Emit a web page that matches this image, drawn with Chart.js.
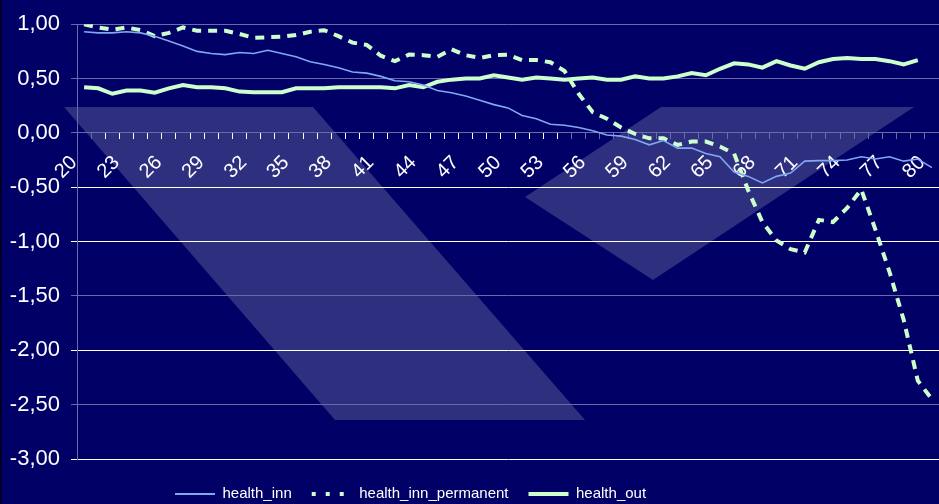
<!DOCTYPE html>
<html>
<head>
<meta charset="utf-8">
<script src="https://cdn.jsdelivr.net/npm/chart.js@4/dist/chart.umd.min.js"></script>
<style>
  html, body { margin: 0; padding: 0; background: #000066; }
  #wrap { width: 939px; height: 504px; position: relative; }
  canvas { display: block; }
</style>
</head>
<body>
<div id="wrap"><canvas id="c" width="939" height="504"></canvas></div>
<script>
const ages = [20,21,22,23,24,25,26,27,28,29,30,31,32,33,34,35,36,37,38,39,
  40,41,42,43,44,45,46,47,48,49,50,51,52,53,54,55,56,57,58,59,
  60,61,62,63,64,65,66,67,68,69,70,71,72,73,74,75,76,77,78,79,80];

const healthInn = [0.93,0.92,0.92,0.93,0.92,0.89,0.845,0.80,0.75,0.73,
  0.72,0.74,0.73,0.76,0.73,0.70,0.655,0.63,0.60,0.56,
  0.55,0.52,0.48,0.47,0.44,0.39,0.37,0.34,0.30,0.26,
  0.23,0.16,0.13,0.08,0.07,0.05,0.02,-0.02,-0.03,-0.06,
  -0.11,-0.07,-0.14,-0.14,-0.19,-0.22,-0.36,-0.40,-0.46,-0.40,
  -0.37,-0.26,-0.255,-0.255,-0.25,-0.22,-0.24,-0.22,-0.26,-0.24,
  -0.32];

const healthInnPermanent = [1.00,0.97,0.95,0.97,0.945,0.89,0.92,0.97,0.94,0.94,
  0.94,0.91,0.875,0.88,0.885,0.90,0.93,0.945,0.89,0.83,
  0.81,0.71,0.66,0.72,0.715,0.70,0.77,0.715,0.69,0.715,
  0.72,0.67,0.67,0.65,0.57,0.36,0.19,0.13,0.05,-0.01,
  -0.05,-0.05,-0.11,-0.08,-0.08,-0.125,-0.19,-0.53,-0.82,-0.99,
  -1.07,-1.10,-0.80,-0.82,-0.69,-0.52,-0.89,-1.28,-1.72,-2.28,
  -2.45];

const healthOut = [0.42,0.41,0.36,0.39,0.39,0.37,0.41,0.44,0.42,0.42,
  0.41,0.38,0.375,0.375,0.375,0.41,0.41,0.41,0.42,0.42,
  0.42,0.42,0.41,0.44,0.42,0.47,0.49,0.50,0.50,0.53,
  0.51,0.49,0.51,0.50,0.49,0.50,0.51,0.49,0.49,0.52,
  0.50,0.50,0.52,0.55,0.53,0.59,0.64,0.63,0.60,0.66,
  0.62,0.59,0.65,0.68,0.69,0.68,0.68,0.66,0.63,0.67,
  null];

const yTicks = [1, 0.5, 0, -0.5, -1, -1.5, -2, -2.5, -3];
const brightGrid = [-0.5, -1, -2, -3];

const BG = '#000066';
const DIM = '#6a6aaa';
const GREEN = '#ccffcc';
const BLUE = '#80a8f0';
const FONT = "'Liberation Sans', Arial, sans-serif";

const backdrop = {
  id: 'backdrop',
  beforeDraw(chart) {
    const ctx = chart.ctx;
    ctx.save();
    ctx.fillStyle = BG;
    ctx.fillRect(0, 0, chart.width, chart.height);
    ctx.fillStyle = 'rgba(0,0,0,0.6)';
    ctx.fillRect(0, 0, 2, chart.height);
    ctx.fillStyle = '#2f2f80';
    ctx.beginPath();
    ctx.moveTo(64, 107); ctx.lineTo(313, 107); ctx.lineTo(585, 420); ctx.lineTo(335, 420);
    ctx.closePath(); ctx.fill();
    ctx.beginPath();
    ctx.moveTo(661, 107); ctx.lineTo(914, 107); ctx.lineTo(653, 280); ctx.lineTo(525, 197);
    ctx.closePath(); ctx.fill();
    ctx.restore();
  },
  afterLayout(chart) {
    const lg = chart.legend;
    const p = lg.options.labels.padding;
    const h = lg.height;
    lg.left = 175 - p;
    lg.top = 494 - p - 7.5;
    lg.bottom = lg.top + h;
  }
};

new Chart(document.getElementById('c'), {
  type: 'line',
  data: {
    labels: ages,
    datasets: [
      { label: 'health_inn', data: healthInn, borderColor: BLUE, backgroundColor: BLUE,
        borderWidth: 1.6, pointRadius: 0, tension: 0, legendWidth: 2 },
      { label: 'health_inn_permanent', data: healthInnPermanent, borderColor: GREEN, backgroundColor: GREEN,
        borderWidth: 4, borderDash: [9, 7], pointRadius: 0, tension: 0, legendWidth: 4, legendDash: [4, 10] },
      { label: 'health_out', data: healthOut, borderColor: GREEN, backgroundColor: GREEN,
        borderWidth: 4, pointRadius: 0, tension: 0, legendWidth: 4 }
    ]
  },
  options: {
    responsive: false,
    animation: false,
    layout: { padding: { top: 18, right: -2, bottom: 0, left: 0 } },
    plugins: {
      tooltip: { enabled: false },
      legend: {
        position: 'bottom',
        align: 'start',
        maxHeight: 46,
        labels: {
          color: '#ffffff',
          font: { family: FONT, size: 15 },
          padding: 20,
          usePointStyle: true,
          pointStyleWidth: 40,
          boxHeight: 15,
          generateLabels(chart) {
            return chart.data.datasets.map((ds, i) => ({
              text: ds.label,
              fillStyle: ds.borderColor,
              strokeStyle: ds.borderColor,
              lineWidth: ds.legendWidth,
              lineDash: ds.legendDash || [],
              pointStyle: 'line',
              fontColor: '#ffffff',
              hidden: false,
              datasetIndex: i
            }));
          }
        }
      }
    },
    scales: {
      x: {
        type: 'category',
        position: { y: 0 },
        offset: true,
        afterFit(scale) { scale.height = 0; scale.paddingRight = 0; scale.paddingLeft = 0; },
        grid: {
          offset: true,
          drawOnChartArea: false,
          drawTicks: true,
          tickLength: 6,
          color: (c) => (c.index >= 2 && c.index <= 34) ? '#ffffff' : DIM,
          lineWidth: 1
        },
        border: { display: true, color: DIM, width: 1 },
        ticks: {
          autoSkip: false,
          maxRotation: 45,
          minRotation: 45,
          padding: 12,
          labelOffset: -10,
          color: '#ffffff',
          font: { family: FONT, size: 20 },
          callback: (v, i) => (i % 3 === 0 ? String(ages[i]) : '')
        }
      },
      y: {
        min: -3,
        max: 1,
        afterFit(scale) { scale.width = 77; },
        afterBuildTicks(scale) { scale.ticks = yTicks.map(v => ({ value: v })); },
        grid: {
          color: (c) => (c.tick && brightGrid.includes(c.tick.value)) ? '#ffffff' : DIM,
          lineWidth: 1,
          drawTicks: true,
          tickLength: 6
        },
        border: { display: true, color: DIM, width: 1 },
        ticks: {
          padding: 11,
          color: '#ffffff',
          font: { family: FONT, size: 22 },
          callback: (v) => v.toFixed(2).replace('.', ',')
        }
      }
    }
  },
  plugins: [backdrop]
});
</script>
</body>
</html>
